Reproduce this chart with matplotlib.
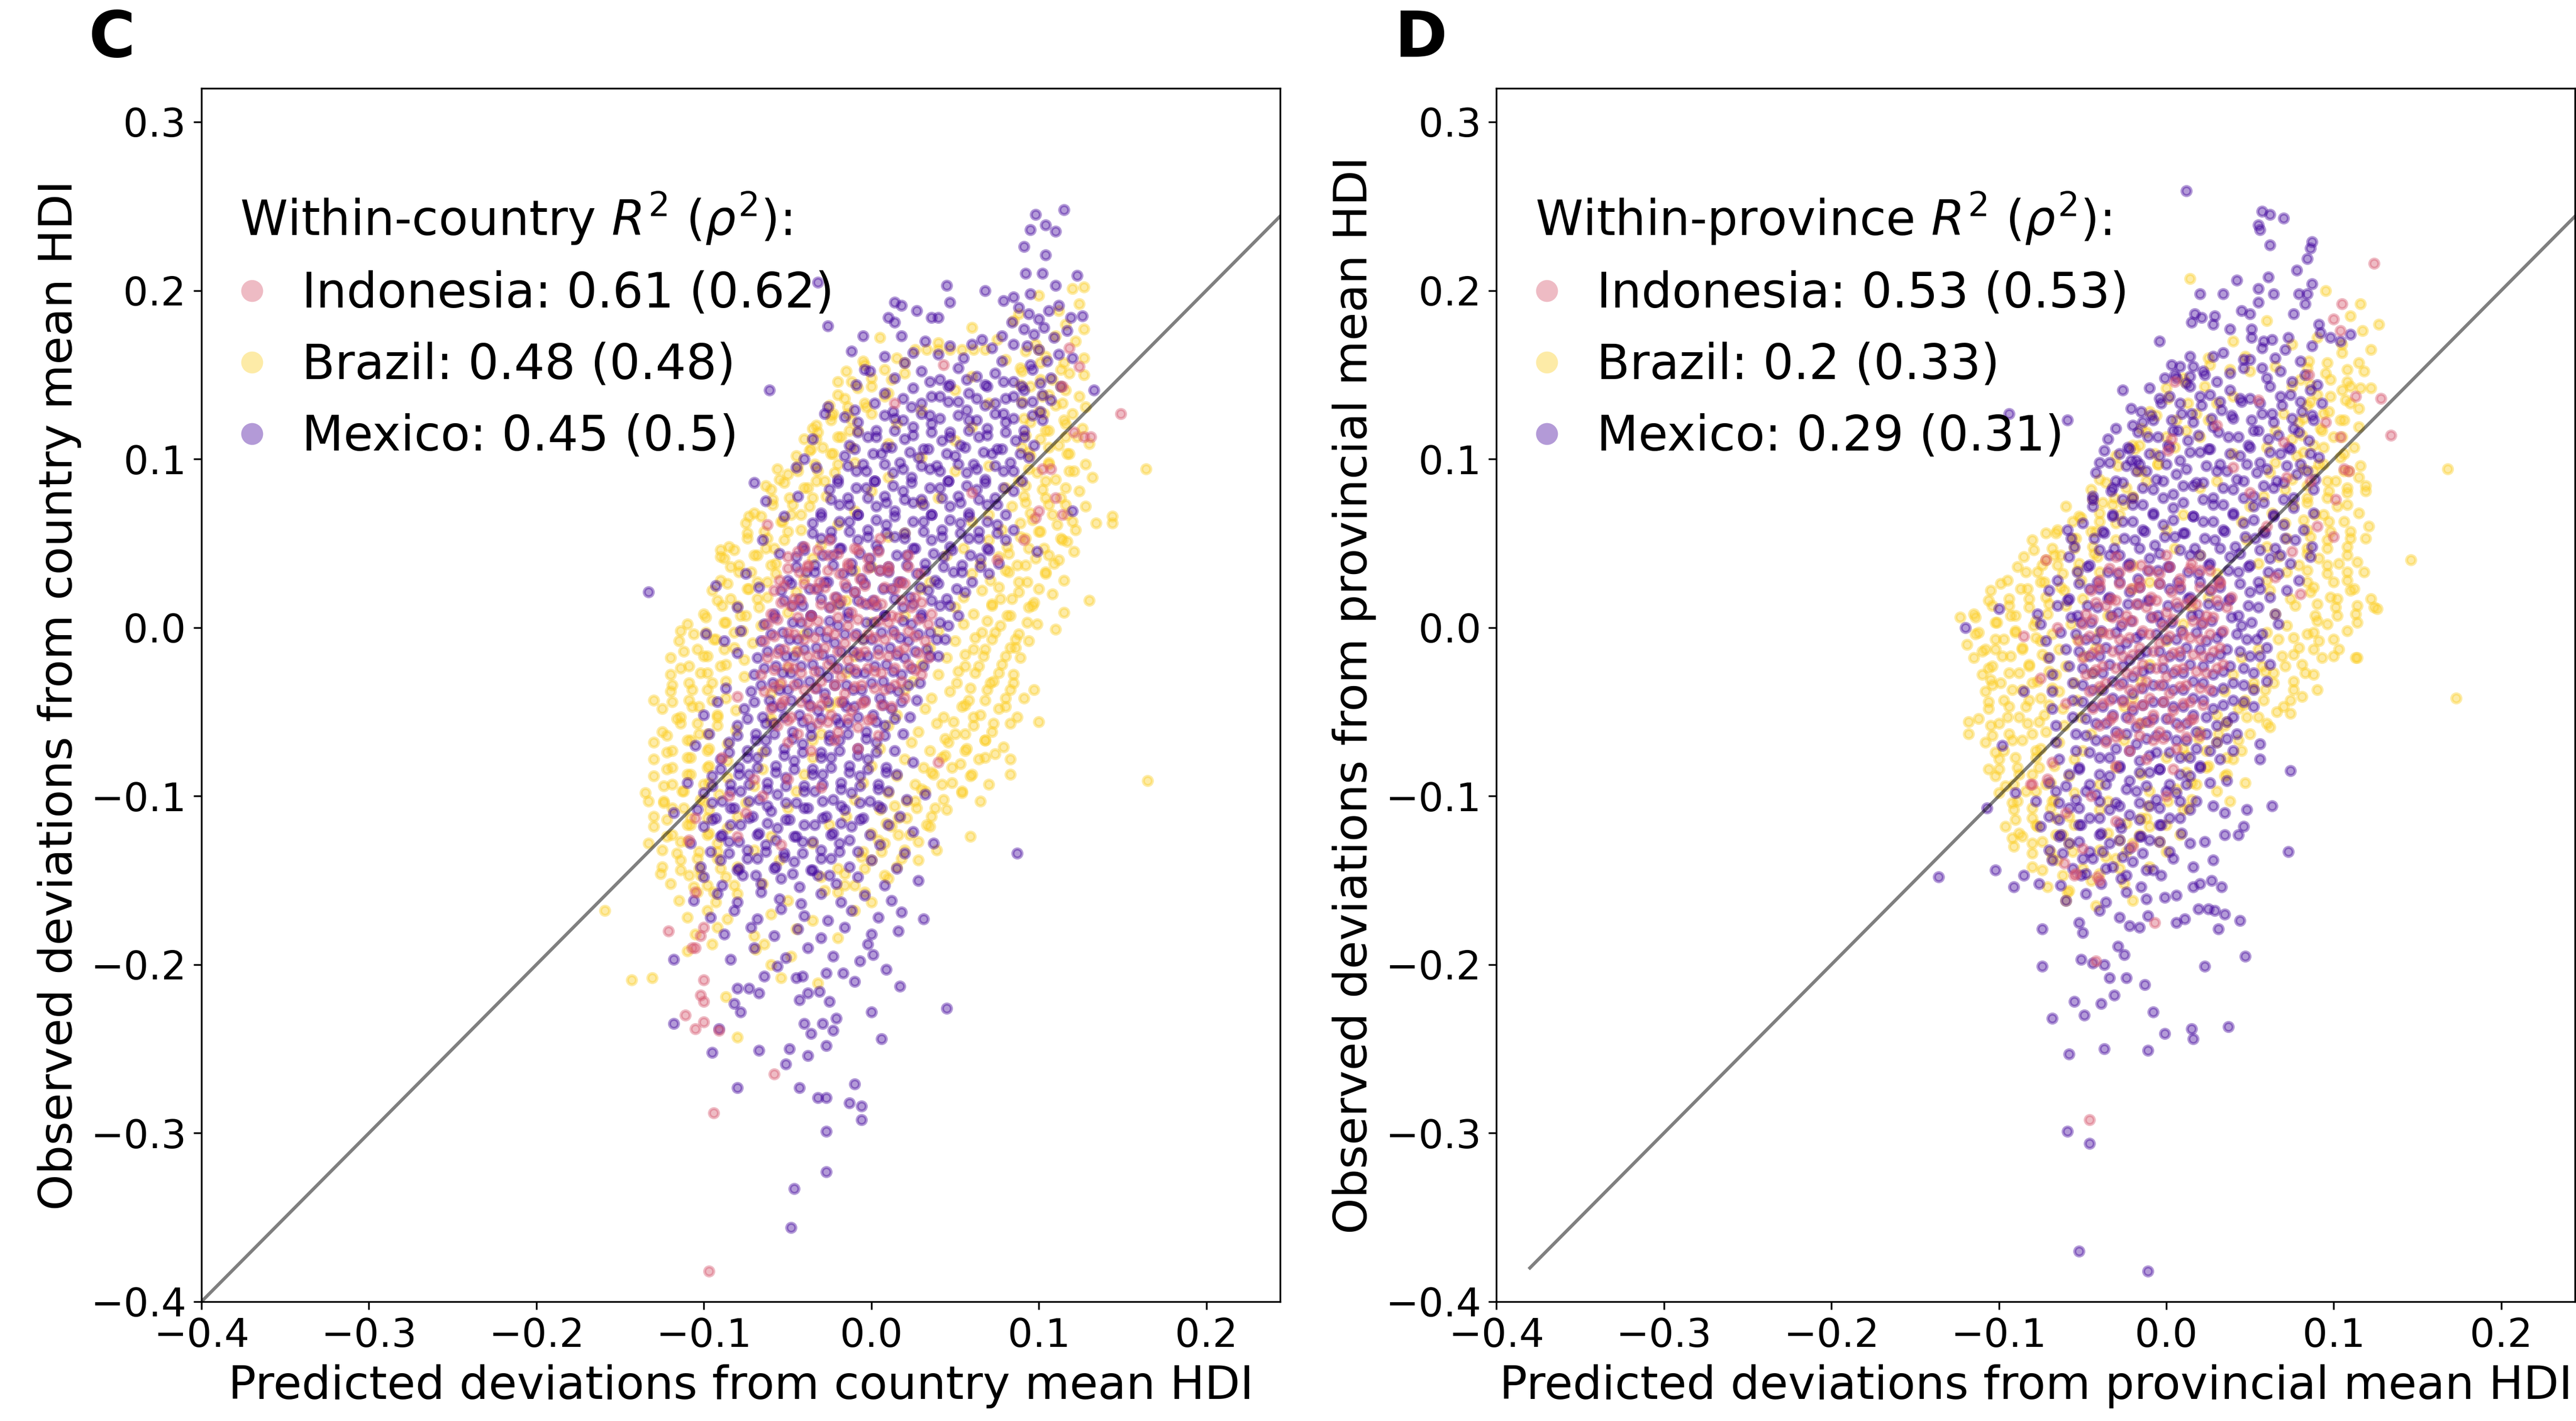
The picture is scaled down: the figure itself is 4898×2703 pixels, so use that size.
import numpy as np
import matplotlib.pyplot as plt
from matplotlib.lines import Line2D

# (predicted, observed) deviations, in thousandths of HDI

# panel C, country level
MEX_C = [
    (115,248),(98,245),(104,239),(95,236),(110,235),(91,226),(104,221),(92,210),(102,210),(123,209),(110,203),(45,203),(68,200),(-32,205),
    (14,193),(18,191),(27,188),(36,184),(40,184),(47,193),(79,194),(85,196),(95,198),(112,191),(126,185),(119,184),(10,184),(14,181),(-26,179),
    (-5,173),(18,173),(-12,164),(-1,152),(-61,141),(133,141),(-26,131),(-28,127),(-16,125),(-45,95),(-70,86),(-63,75),(-133,21),(-93,25),(-99,-4),(120,69),(99,45),(87,-134),
    (88,190),(94,186),(100,183),(106,188),(84,181),(91,177),(97,174),(103,178),(109,172),(78,173),(85,168),(93,167),(100,165),(112,162),
    (72,166),(66,171),(60,168),(55,160),(47,167),(40,162),(32,170),(25,163),(20,157),(8,161),(117,176),(120,160),(105,158),(95,156),(78,158),
    (-4,153),(14,148),(30,152),(41,147),(52,154),(63,149),(74,151),(85,146),(96,153),(107,148),
    (-9,144),(8,139),(25,142),(36,137),(47,144),(58,139),(69,143),(80,136),(91,141),(102,138),(113,143),
    (2,133),(13,128),(24,131),(35,126),(46,134),(57,129),(68,132),(79,127),(90,133),(101,128),(-10,129),
    (-8,122),(3,117),(14,124),(25,119),(36,121),(47,116),(58,123),(69,118),(80,122),(91,117),(102,123),
    (-13,108),(-2,113),(9,107),(20,112),(31,106),(42,111),(53,108),(64,113),(75,106),(86,111),(97,108),(-35,112),
    (-16,102),(-5,97),(6,103),(17,98),(28,101),(39,96),(50,102),(61,97),(72,103),(83,98),(94,101),(-40,100),
    (-20,88),(-9,93),(2,87),(13,92),(24,89),(35,94),(46,87),(57,92),(68,88),(79,93),(90,87),(-33,95),
    (-25,82),(-14,77),(-3,83),(8,78),(19,81),(30,76),(41,83),(52,78),(63,82),(74,77),(85,81),(-44,78),
    (-30,68),(-19,73),(-8,67),(3,72),(14,69),(25,74),(36,67),(47,72),(58,68),(69,73),(80,67),(-52,66),
    (-35,62),(-24,57),(-13,63),(-2,58),(9,61),(20,56),(31,63),(42,58),(53,62),(64,57),(75,61),(85,58),
    (-41,48),(-30,53),(-19,47),(-8,52),(3,49),(14,54),(25,47),(36,52),(47,48),(58,53),(69,47),(80,52),(-65,52),(-55,44),
    (-45,42),(-34,37),(-23,43),(-12,38),(-1,41),(10,36),(21,43),(32,38),(43,42),(54,37),(65,41),(76,38),
    (-50,28),(-39,33),(-28,27),(-17,32),(-6,29),(5,34),(16,27),(27,32),(38,28),(49,33),(60,27),(70,32),(-75,32),
    (-54,22),(-43,17),(-32,23),(-21,18),(-10,21),(1,16),(12,23),(23,18),(34,22),(45,17),(56,21),(-67,24),
    (-58,8),(-47,13),(-36,7),(-25,12),(-14,9),(-3,14),(8,7),(19,12),(30,8),(41,13),(52,7),(-80,12),
    (-64,2),(-53,-3),(-42,3),(-31,-2),(-20,1),(-9,-4),(2,3),(13,-2),(24,2),(35,-3),(46,1),(-78,-2),
    (-66,-8),(-55,-13),(-44,-7),(-33,-12),(-22,-9),(-11,-14),(0,-7),(11,-12),(22,-8),(33,-13),(44,-7),(-88,-8),
    (-68,-18),(-57,-23),(-46,-17),(-35,-22),(-24,-19),(-13,-24),(-2,-17),(9,-22),(20,-18),(31,-23),(40,-17),(-80,-15),
    (-70,-28),(-59,-33),(-48,-27),(-37,-32),(-26,-29),(-15,-34),(-4,-27),(7,-32),(18,-28),(29,-33),(-87,-36),
    (-72,-38),(-61,-43),(-50,-37),(-39,-42),(-28,-39),(-17,-44),(-6,-37),(5,-42),(16,-38),(27,-43),(-92,-44),
    (-76,-48),(-65,-53),(-54,-47),(-43,-52),(-32,-49),(-21,-54),(-10,-47),(1,-52),(12,-48),(23,-53),(-100,-52),
    (-80,-58),(-69,-63),(-58,-57),(-47,-62),(-36,-59),(-25,-64),(-14,-57),(-3,-62),(8,-58),(19,-63),(-97,-63),
    (-85,-68),(-74,-73),(-63,-67),(-52,-72),(-41,-69),(-30,-74),(-19,-67),(-8,-72),(3,-68),(14,-73),(-105,-70),
    (-90,-78),(-79,-83),(-68,-77),(-57,-82),(-46,-79),(-35,-84),(-24,-77),(-13,-82),(-2,-78),(9,-83),(25,-80),
    (-95,-88),(-84,-93),(-73,-87),(-62,-92),(-51,-89),(-40,-94),(-29,-87),(-18,-92),(-7,-88),(4,-93),(15,-87),(-110,-92),
    (-100,-98),(-89,-103),(-78,-97),(-67,-102),(-56,-99),(-45,-104),(-34,-97),(-23,-102),(-12,-98),(-1,-103),(10,-97),(21,-102),(32,-99),
    (-104,-108),(-93,-113),(-82,-107),(-71,-112),(-60,-109),(-49,-114),(-38,-107),(-27,-112),(-16,-108),(-5,-113),(6,-107),(17,-112),(-118,-110),
    (-100,-118),(-89,-123),(-78,-117),(-67,-122),(-56,-119),(-45,-124),(-34,-117),(-23,-122),(-12,-118),(-1,-123),(10,-117),(25,-121),
    (-108,-128),(-96,-133),(-85,-127),(-74,-132),(-63,-129),(-52,-134),(-41,-127),(-30,-132),(-19,-128),(-8,-133),(5,-129),(20,-134),(37,-128),
    (-102,-142),(-90,-138),(-79,-143),(-68,-137),(-57,-142),(-46,-139),(-35,-144),(-24,-137),(-13,-142),(0,-138),(15,-143),
    (-100,-148),(-89,-153),(-77,-147),(-66,-152),(-54,-149),(-43,-154),(-32,-147),(-21,-152),(-8,-148),(8,-153),(28,-150),
    (-106,-162),(-92,-158),(-80,-163),(-66,-157),(-55,-161),(-42,-164),(-30,-158),(-18,-163),(-4,-159),(12,-162),
    (-96,-172),(-82,-168),(-68,-173),(-54,-167),(-40,-171),(-26,-174),(-12,-168),(4,-172),(18,-169),(31,-173),
    (-88,-182),(-72,-178),(-58,-183),(-44,-179),(-30,-184),(-16,-178),(0,-182),(16,-180),
    (-84,-197),(-118,-197),(-64,-207),(-56,-201),(-51,-196),(-45,-208),(-41,-207),(-31,-216),(-27,-205),(-23,-195),(-17,-205),(-10,-210),
    (-7,-198),(1,-194),(9,-203),(17,-213),(-70,-190),(-38,-190),(-2,-188),
    (-48,-356),(-46,-333),(-27,-323),(-27,-299),(-6,-292),(-6,-284),(-10,-271),(-13,-282),(-27,-279),(-32,-279),(-43,-273),(-80,-273),
    (-95,-252),(-67,-251),(-49,-250),(-38,-254),(-51,-259),(-27,-248),(6,-244),(-36,-241),(-23,-239),(-29,-235),(-40,-235),(-21,-232),
    (0,-228),(45,-226),(-25,-222),(-43,-221),(-38,-217),(-67,-217),(-80,-214),(-73,-214),(-82,-223),(-78,-228),(-118,-235),(-91,-238),
]

# the dark central band of the Mexico cloud in panel C
MEX_C_CORE = [
    (35,146),(46,143),(57,147),(68,144),(79,146),(90,143),(101,145),
    (19,136),(30,133),(41,137),(52,134),(63,136),(74,133),(85,137),(96,134),(107,135),
    (8,126),(19,123),(30,127),(41,124),(52,126),(63,123),(74,127),(85,124),(96,126),
    (-8,116),(3,113),(14,117),(25,114),(36,116),(47,113),(58,117),(69,114),(80,116),(91,113),
    (-10,106),(1,103),(12,107),(23,104),(34,106),(45,103),(56,107),(67,104),(78,106),(89,103),
    (-14,96),(-3,93),(8,97),(19,94),(30,96),(41,93),(52,97),(63,94),(74,96),(85,93),
    (-20,86),(-9,83),(2,87),(13,84),(24,86),(35,83),(46,87),(57,84),(68,86),(79,83),
    (-24,76),(-13,73),(-2,77),(9,74),(20,76),(31,73),(42,77),(53,74),(64,76),(75,73),
    (-30,66),(-19,63),(-8,67),(3,64),(14,66),(25,63),(36,67),(47,64),(58,66),(69,63),
    (-35,56),(-24,53),(-13,57),(-2,54),(9,56),(20,53),(31,57),(42,54),(53,56),(64,53),(75,56),
    (-40,46),(-29,43),(-18,47),(-7,44),(4,46),(15,43),(26,47),(37,44),(48,46),(59,43),(70,46),
    (-45,36),(-34,33),(-23,37),(-12,34),(-1,36),(10,33),(21,37),(32,34),(43,36),(54,33),(65,36),
    (-48,26),(-37,23),(-26,27),(-15,24),(-4,26),(7,23),(18,27),(29,24),(40,26),(51,23),
    (-52,16),(-41,13),(-30,17),(-19,14),(-8,16),(3,13),(14,17),(25,14),(36,16),(47,13),
    (-58,6),(-47,3),(-36,7),(-25,4),(-14,6),(-3,3),(8,7),(19,4),(30,6),(41,3),
    (-60,-4),(-49,-7),(-38,-3),(-27,-6),(-16,-4),(-5,-7),(6,-3),(17,-6),(28,-4),(39,-7),
    (-62,-14),(-51,-17),(-40,-13),(-29,-16),(-18,-14),(-7,-17),(4,-13),(15,-16),(26,-14),(35,-17),
    (-64,-24),(-53,-27),(-42,-23),(-31,-26),(-20,-24),(-9,-27),(2,-23),(13,-26),(24,-24),
    (-66,-34),(-55,-37),(-44,-33),(-33,-36),(-22,-34),(-11,-37),(0,-33),(11,-36),(22,-34),
    (-70,-44),(-59,-47),(-48,-43),(-37,-46),(-26,-44),(-15,-47),(-4,-43),(7,-46),(18,-44),
    (-74,-54),(-63,-57),(-52,-53),(-41,-56),(-30,-54),(-19,-57),(-8,-53),(3,-56),(14,-54),
    (-80,-64),(-69,-67),(-58,-63),(-47,-66),(-36,-64),(-25,-67),(-14,-63),(-3,-66),(8,-64),
    (-85,-74),(-74,-77),(-63,-73),(-52,-76),(-41,-74),(-30,-77),(-19,-73),(-8,-76),(3,-74),
    (-90,-84),(-79,-87),(-68,-83),(-57,-86),(-46,-84),(-35,-87),(-24,-83),(-13,-86),(-2,-84),(9,-86),
    (-95,-94),(-84,-97),(-73,-93),(-62,-96),(-51,-94),(-40,-97),(-29,-93),(-18,-96),(-7,-94),(4,-96),
    (-95,-104),(-84,-107),(-73,-103),(-62,-106),(-51,-104),(-40,-107),(-29,-103),(-18,-106),(-7,-104),(4,-106),
    (-95,-114),(-84,-117),(-73,-113),(-62,-116),(-51,-114),(-40,-117),(-29,-113),(-18,-116),(-7,-114),
    (-90,-124),(-79,-127),(-68,-123),(-57,-126),(-46,-124),(-35,-127),(-24,-123),(-13,-126),
    (-85,-134),(-74,-137),(-63,-133),(-52,-136),(-41,-134),(-30,-137),(-19,-133),
    (-80,-144),(-69,-147),(-58,-143),(-47,-146),(-36,-144),(-25,-147),
]

BRA_C = [
    (120,201),(127,202),(100,197),(112,188),(124,192),(88,186),(127,177),(85,182),(116,180),(60,178),
    (5,172),(40,169),(75,171),(98,168),(110,173),(122,170),
    (26,165),(33,165),(40,165),(47,165),(54,165),(61,165),(68,165),(92,164),(100,165),
    (-5,158),(15,160),(80,159),(104,161),(115,157),(127,160),
    (-15,152),(0,148),(20,151),(60,149),(90,152),(108,147),(118,151),(127,150),(-20,146),
    (-20,138),(-8,142),(10,139),(50,141),(95,143),(106,138),(116,141),(124,137),
    (-25,132),(-14,127),(-3,131),(30,129),(70,133),(100,128),(110,132),(120,127),(128,131),(-23,127),(-14,131),
    (-35,118),(-24,123),(-13,117),(15,121),(60,119),(95,122),(106,117),(116,121),(126,118),(-33,120),(-33,112),
    (-40,112),(-29,107),(-18,113),(10,109),(50,111),(90,107),(101,112),(112,108),(123,113),(130,109),(-37,105),
    (-45,102),(-34,97),(-23,103),(-10,98),(30,101),(70,96),(95,102),(106,98),(117,103),(128,97),
    (-55,88),(-44,93),(-33,87),(-22,92),(10,89),(50,93),(88,87),(99,92),(110,88),(121,93),(132,89),(164,94),(-56,94),(-50,91),
    (-60,82),(-49,77),(-38,83),(-27,78),(0,81),(40,77),(80,83),(91,78),(102,82),(113,77),(124,81),(-63,84),
    (-70,68),(-59,73),(-48,67),(-37,72),(-10,69),(30,74),(70,67),(84,72),(95,68),(106,73),(117,67),(128,72),(-73,66),
    (-75,62),(-64,57),(-53,63),(-42,58),(-20,61),(20,56),(60,63),(78,58),(89,62),(100,57),(111,61),(122,58),(134,62),(144,66),(144,62),
    (-85,48),(-74,53),(-63,47),(-52,52),(-30,49),(10,54),(55,47),(70,52),(81,48),(92,53),(103,47),(114,52),(121,45),(117,51),(-90,46),
    (-90,42),(-79,37),(-68,43),(-57,38),(-35,41),(0,36),(45,43),(65,38),(76,42),(87,37),(98,41),(109,38),(112,40),(-88,41),
    (-90,28),(-79,33),(-68,27),(-57,32),(-40,29),(-10,34),(35,27),(60,32),(71,28),(82,33),(93,27),(104,32),(115,28),
    (-95,22),(-84,17),(-73,23),(-62,18),(-45,21),(-15,16),(30,23),(55,18),(66,22),(77,17),(88,21),(97,15),(108,20),
    (-100,8),(-89,13),(-78,7),(-67,12),(-50,9),(-20,14),(20,7),(50,12),(61,8),(72,13),(83,7),(94,12),(130,16),(115,9),
    (-110,2),(-99,-3),(-88,3),(-77,-2),(-66,1),(-40,-4),(0,3),(40,-2),(55,2),(66,-3),(77,1),(88,-4),(99,2),(110,-1),(-114,-2),
    (-115,-8),(-104,-13),(-93,-7),(-82,-12),(-71,-9),(-45,-14),(-5,-7),(35,-12),(50,-8),(61,-13),(72,-7),(83,-12),(86,-12),(94,-8),
    (-120,-18),(-109,-23),(-98,-17),(-87,-22),(-76,-19),(-50,-24),(-10,-17),(30,-22),(45,-18),(56,-23),(67,-17),(78,-22),(89,-18),
    (-120,-28),(-109,-33),(-98,-27),(-87,-32),(-76,-29),(-55,-34),(-15,-27),(25,-32),(40,-28),(51,-33),(62,-27),(73,-32),(85,-33),(85,-28),
    (-130,-43),(-120,-38),(-109,-43),(-98,-37),(-87,-42),(-60,-39),(-20,-44),(20,-37),(36,-42),(47,-38),(58,-43),(69,-37),(80,-42),(91,-42),(97,-37),
    (-125,-48),(-114,-53),(-103,-47),(-92,-52),(-81,-49),(-60,-54),(-25,-47),(15,-52),(32,-48),(43,-53),(54,-47),(65,-52),(76,-48),(87,-53),(100,-56),
    (-125,-62),(-114,-57),(-103,-63),(-92,-58),(-81,-61),(-60,-56),(-30,-63),(10,-58),(28,-62),(39,-57),(50,-63),(61,-58),(72,-62),(83,-57),
    (-130,-68),(-119,-73),(-108,-67),(-97,-72),(-86,-69),(-65,-74),(-35,-67),(5,-72),(24,-68),(35,-73),(46,-68),(57,-72),(68,-67),(74,-75),(79,-71),
    (-130,-78),(-119,-83),(-108,-77),(-97,-82),(-86,-79),(-65,-84),(-35,-77),(0,-82),(20,-78),(31,-83),(42,-77),(53,-81),(64,-78),(83,-78),(83,-87),
    (-130,-88),(-119,-93),(-108,-87),(-97,-92),(-86,-89),(-70,-94),(-40,-87),(-5,-92),(15,-88),(26,-93),(37,-87),(48,-92),(59,-88),(70,-93),(165,-91),
    (-135,-98),(-124,-103),(-113,-97),(-102,-102),(-91,-99),(-75,-104),(-45,-97),(-10,-102),(10,-98),(21,-103),(32,-97),(43,-102),(54,-98),(65,-103),
    (-133,-103),(-130,-112),(-119,-107),(-108,-113),(-97,-108),(-80,-112),(-50,-107),(-15,-112),(5,-108),(16,-113),(27,-107),(36,-112),(45,-108),
    (-130,-118),(-119,-123),(-108,-117),(-97,-122),(-86,-119),(-60,-124),(-25,-117),(0,-122),(12,-118),(23,-123),(35,-118),(59,-124),
    (-133,-128),(-125,-132),(-114,-127),(-103,-133),(-92,-128),(-70,-132),(-35,-128),(-5,-133),(8,-128),(20,-132),(39,-132),
    (-125,-142),(-114,-138),(-103,-143),(-92,-137),(-80,-142),(-55,-138),(-20,-143),(0,-138),(15,-142),(28,-138),
    (-126,-146),(-120,-152),(-109,-147),(-98,-153),(-87,-148),(-65,-152),(-30,-148),(-10,-153),(10,-149),
    (-115,-162),(-104,-157),(-93,-163),(-80,-158),(-50,-162),(-20,-157),(0,-163),
    (-159,-168),(-110,-172),(-98,-168),(-86,-173),(-60,-170),(-35,-174),(-10,-168),
    (-105,-182),(-92,-178),(-70,-183),(-45,-179),(-20,-184),
    (-110,-192),(-95,-188),(-69,-191),(-64,-188),(-48,-195),
    (-143,-209),(-131,-208),(-87,-219),(-80,-243),(-54,-208),(-32,-211),(-60,-200),
]

# the yellow rims left and right of the Mexico band in panel C
BRA_C_EDGE = [
    (-4,156),(8,153),(20,157),(89,154),(101,157),(113,153),
    (-12,146),(0,143),(12,147),(89,144),(101,147),(113,143),
    (-16,136),(-4,133),(8,137),(90,134),(102,137),(114,133),
    (-24,126),(-12,123),(0,127),(91,124),(103,127),(115,123),
    (-32,116),(-20,113),(-8,117),(92,114),(104,117),(116,113),
    (-36,106),(-24,103),(-12,107),(94,104),(106,107),(118,103),
    (-44,96),(-32,93),(-20,97),(94,94),(106,97),(118,93),
    (-52,86),(-40,83),(-28,87),(92,84),(104,87),(116,83),
    (-59,76),(-47,73),(-35,77),(92,74),(104,77),(116,73),
    (-66,66),(-54,63),(-42,67),(96,64),(108,67),(120,63),
    (-74,56),(-62,53),(-50,57),(89,54),(101,57),(113,53),
    (-82,46),(-70,43),(-58,47),(82,44),(94,47),(106,43),
    (-84,36),(-72,33),(-60,37),(80,34),(92,37),(104,33),
    (-86,26),(-74,23),(-62,27),(76,24),(88,27),(100,23),
    (-92,16),(-80,13),(-68,17),(72,14),(84,17),(96,13),
    (-99,6),(-87,3),(-75,7),(69,4),(81,7),(93,3),
    (-106,-4),(-94,-7),(-82,-3),(62,-6),(74,-3),(86,-7),
    (-112,-14),(-100,-17),(-88,-13),(56,-16),(68,-13),(80,-17),
    (-114,-24),(-102,-27),(-90,-23),(52,-26),(64,-23),(76,-27),
    (-119,-34),(-107,-37),(-95,-33),(59,-36),(71,-33),(83,-37),
    (-119,-44),(-107,-47),(-95,-43),(56,-46),(68,-43),(80,-47),
    (-116,-54),(-104,-57),(-92,-53),(49,-56),(61,-53),(73,-57),
    (-122,-64),(-110,-67),(-98,-63),(44,-66),(56,-63),(68,-67),
    (-122,-74),(-110,-77),(-98,-73),(44,-76),(56,-73),(68,-77),
    (-122,-84),(-110,-87),(-98,-83),(36,-86),(48,-83),(60,-87),
    (-124,-94),(-112,-97),(-100,-93),(30,-96),(42,-93),(54,-97),
    (-124,-104),(-112,-107),(-100,-103),(14,-106),(26,-103),(38,-107),
    (-122,-114),(-110,-117),(-98,-113),(9,-116),(21,-113),(33,-117),
    (-122,-124),(-110,-127),(-98,-123),(4,-126),(16,-123),(28,-127),
    (-116,-134),(-104,-137),(-92,-133),(-6,-136),(6,-133),(18,-137),
    (-114,-144),(-102,-147),(-90,-143),(-16,-146),(-4,-143),(8,-147),
    (-106,-154),(-94,-157),(-82,-153),(-28,-156),(-16,-153),(-4,-157),
]

IDN_C = [
    (-40,48),(-25,52),(-10,47),(5,53),
    (-50,42),(-38,37),(-26,43),(-14,38),(-2,41),(10,36),(22,43),
    (-55,28),(-43,33),(-31,27),(-19,32),(-7,29),(5,34),(17,27),(29,32),
    (-58,22),(-46,17),(-34,23),(-22,18),(-10,21),(2,16),(14,23),(26,18),
    (-60,8),(-48,13),(-36,7),(-24,12),(-12,9),(0,14),(12,7),(24,12),(36,8),
    (-62,2),(-50,-3),(-38,3),(-26,-2),(-14,1),(-2,-4),(10,3),(22,-2),(34,2),
    (-64,-8),(-52,-13),(-40,-7),(-28,-12),(-16,-9),(-4,-14),(8,-7),(20,-12),(32,-8),
    (-62,-18),(-50,-23),(-38,-17),(-26,-22),(-14,-19),(-2,-24),(10,-17),(22,-22),(34,-18),
    (-66,-28),(-54,-33),(-42,-27),(-30,-32),(-18,-29),(-6,-34),(6,-27),(18,-32),(30,-28),
    (-64,-38),(-52,-43),(-40,-37),(-28,-42),(-16,-39),(-4,-44),(8,-37),(20,-42),
    (-60,-48),(-48,-53),(-36,-47),(-24,-52),(-12,-49),(0,-54),(12,-47),
    (-56,-58),(-44,-63),(-32,-57),(-20,-62),(-8,-59),(4,-64),
    (-50,-68),(-36,-73),(-22,-67),(-8,-72),
    (-44,45),(-32,46),(-20,44),(-8,46),(4,45),
    (-50,35),(-38,36),(-26,34),(-14,36),(-2,35),(10,34),(22,36),
    (-52,25),(-40,26),(-28,24),(-16,26),(-4,25),(8,24),(20,26),
    (-54,15),(-42,16),(-30,14),(-18,16),(-6,15),(6,14),(18,16),(30,15),
    (-56,5),(-44,6),(-32,4),(-20,6),(-8,5),(4,4),(16,6),(28,5),
    (-58,-5),(-46,-4),(-34,-6),(-22,-4),(-10,-5),(2,-6),(14,-4),(26,-5),
    (-56,-15),(-44,-14),(-32,-16),(-20,-14),(-8,-15),(4,-16),(16,-14),(28,-15),
    (-58,-25),(-46,-24),(-34,-26),(-22,-24),(-10,-25),(2,-26),(14,-24),(26,-25),
    (-58,-35),(-46,-34),(-34,-36),(-22,-34),(-10,-35),(2,-36),(14,-34),
    (-54,-45),(-42,-44),(-30,-46),(-18,-44),(-6,-45),(6,-46),
    (-50,-55),(-38,-54),(-26,-56),(-14,-54),(-2,-55),
    (149,127),(131,113),(127,113),(121,116),(118,166),(124,155),(114,143),(43,156),(14,133),(107,94),(102,94),(110,77),(114,67),
    (98,65),(100,69),(-62,61),(91,52),(60,80),(75,40),(-70,-90),(-85,-100),(40,-80),(-75,-110),
    (-121,-180),(-105,-157),(-105,-113),(-109,-126),(-100,-178),(-102,-183),(-107,-190),(-105,-190),(-100,-209),(-102,-218),
    (-100,-222),(-111,-230),(-105,-238),(-100,-234),(-91,-239),(-58,-265),(-94,-288),(-97,-382),(-80,-41),(-89,-77),
    (-54,-129),(-80,-124),(-65,-100),(-50,-90),(-30,-95),
]

# panel D, province level
MEX_D = [
    (12,259),(57,247),(62,245),(70,243),(55,239),(56,236),(62,227),(87,229),(86,225),(84,219),(78,212),(61,208),(42,206),(87,204),
    (55,201),(64,198),(20,198),(34,198),(55,193),(79,198),(84,198),(83,192),(45,188),(50,186),(76,186),(17,186),(21,184),(29,185),
    (15,181),(28,180),(38,177),(-4,170),(51,177),(51,172),(58,170),(63,171),(57,166),(73,172),(71,165),(87,167),(92,175),(98,172),
    (104,170),(110,174),(91,180),(14,161),(28,161),(34,163),(46,159),(50,159),(46,154),(57,154),(-26,141),(-21,130),(-20,120),
    (-14,122),(-37,105),(-34,98),(-21,99),(-18,99),(-59,58),(-57,53),(-44,76),(-33,81),(-94,127),(-59,123),(-120,0),(-100,11),
    (5,150),(12,145),(22,152),(30,146),(38,151),(60,148),(68,152),(75,146),(83,150),(90,144),(3,156),(65,160),(80,158),
    (8,155),(16,155),(23,150),(-1,148),(6,148),(14,149),
    (-10,142),(2,137),(14,143),(26,138),(38,141),(50,136),(62,143),(74,138),(86,141),
    (-15,128),(-3,133),(9,127),(21,132),(33,129),(45,134),(57,127),(69,132),(81,128),(93,133),
    (-30,118),(-8,123),(4,117),(16,122),(28,119),(40,124),(52,117),(64,122),(76,118),(88,123),
    (-35,112),(-23,107),(-11,113),(1,108),(13,111),(25,106),(37,113),(49,108),(61,112),(73,107),(85,111),
    (-40,98),(-28,103),(-16,97),(-4,102),(8,99),(20,104),(32,97),(44,102),(56,98),(68,103),(80,97),(91,101),
    (-42,92),(-30,87),(-18,93),(-6,88),(6,91),(18,86),(30,93),(42,88),(54,92),(66,87),(78,91),(89,88),
    (-44,78),(-32,83),(-20,77),(-8,82),(4,79),(16,84),(28,77),(40,82),(52,78),(64,83),(76,77),(88,82),
    (-44,72),(-32,67),(-20,73),(-8,68),(4,71),(16,66),(28,73),(40,68),(52,72),(64,67),(76,71),(88,68),
    (-50,62),(-38,57),(-26,63),(-14,58),(-2,61),(10,56),(22,63),(34,58),(46,62),(58,57),(70,61),(82,58),
    (-55,48),(-43,53),(-31,47),(-19,52),(-7,49),(5,54),(17,47),(29,52),(41,48),(53,53),(65,47),(77,52),(87,48),
    (-58,42),(-46,37),(-34,43),(-22,38),(-10,41),(2,36),(14,43),(26,38),(38,42),(50,37),(62,41),(74,38),(86,42),
    (-65,28),(-53,33),(-41,27),(-29,32),(-17,29),(-5,34),(7,27),(19,32),(31,28),(43,33),(55,27),(67,32),(79,28),
    (-70,22),(-58,17),(-46,23),(-34,18),(-22,21),(-10,16),(2,23),(14,18),(26,22),(38,17),(50,21),(62,18),(72,22),
    (-77,8),(-65,13),(-53,7),(-41,12),(-29,9),(-17,14),(-5,7),(7,12),(19,8),(31,13),(43,7),(55,12),(65,8),
    (-75,2),(-63,-3),(-51,3),(-39,-2),(-27,1),(-15,-4),(-3,3),(9,-2),(21,2),(33,-3),(45,1),(57,-4),(67,2),
    (-72,-8),(-60,-13),(-48,-7),(-36,-12),(-24,-9),(-12,-14),(0,-7),(12,-12),(24,-8),(36,-13),(48,-7),(60,-12),
    (-70,-18),(-58,-23),(-46,-17),(-34,-22),(-22,-19),(-10,-24),(2,-17),(14,-22),(26,-18),(38,-23),(50,-17),(62,-22),
    (-68,-28),(-56,-33),(-44,-27),(-32,-32),(-20,-29),(-8,-34),(4,-27),(16,-32),(28,-28),(40,-33),(52,-27),(60,-32),
    (-68,-38),(-56,-43),(-44,-37),(-32,-42),(-20,-39),(-8,-44),(4,-37),(16,-42),(28,-38),(40,-43),(52,-37),
    (-68,-48),(-56,-53),(-44,-47),(-32,-52),(-20,-49),(-8,-54),(4,-47),(16,-52),(28,-48),(40,-53),(52,-47),
    (-66,-58),(-54,-63),(-42,-57),(-30,-62),(-18,-59),(-6,-64),(6,-57),(18,-62),(30,-58),(42,-63),(56,-69),
    (-66,-68),(-54,-73),(-42,-67),(-30,-72),(-18,-69),(-6,-74),(6,-67),(18,-72),(30,-68),(40,-73),(56,-78),
    (-64,-78),(-52,-83),(-40,-77),(-28,-82),(-16,-79),(-4,-84),(8,-77),(20,-82),(32,-78),(74,-85),
    (-70,-92),(-58,-87),(-46,-93),(-34,-88),(-22,-91),(-10,-86),(2,-93),(14,-88),(26,-92),(36,-91),
    (-90,-98),(-78,-103),(-66,-97),(-54,-102),(-42,-99),(-30,-104),(-18,-97),(-6,-102),(6,-98),(18,-103),(28,-106),(48,-108),(63,-106),
    (-107,-107),(-70,-112),(-58,-107),(-46,-113),(-34,-108),(-22,-111),(-10,-106),(2,-113),(14,-108),(35,-110),
    (-75,-118),(-63,-123),(-51,-117),(-39,-122),(-27,-119),(-15,-124),(-3,-117),(9,-122),(23,-127),(43,-123),(46,-118),(35,-123),
    (-70,-132),(-58,-128),(-46,-133),(-34,-128),(-22,-131),(-10,-126),(2,-133),(14,-128),(73,-133),
    (-76,-152),(-68,-138),(-56,-143),(-44,-137),(-32,-142),(-20,-139),(-8,-144),(4,-137),(16,-142),(28,-138),
    (-136,-148),(-102,-144),(-91,-154),(-85,-147),(-63,-153),(-51,-147),(-39,-152),(-27,-149),(-15,-154),(-3,-147),(16,-154),(20,-152),(27,-150),(33,-154),
    (-60,-162),(-48,-158),(-36,-163),(-24,-157),(-12,-161),(6,-159),(-1,-160),
    (-52,-175),(-50,-181),(-40,-168),(-28,-172),(-22,-177),(-16,-178),(-11,-171),(6,-175),(11,-173),(19,-167),(25,-167),(29,-168),
    (31,-179),(35,-170),(44,-174),(-74,-179),
    (-74,-201),(-51,-197),(-44,-199),(-37,-200),(-34,-208),(-24,-208),(-13,-212),(-29,-189),(-25,-194),(23,-201),(47,-195),
    (-68,-232),(-55,-222),(-49,-230),(-39,-223),(-31,-218),(-8,-228),(-58,-253),(-37,-250),(-11,-251),(-1,-241),(15,-238),(16,-244),(37,-237),
    (-59,-299),(-46,-306),(-52,-370),(-11,-382),(-98,-70),(-85,-38),
]

# the dark central column of the Mexico cloud in panel D
MEX_D_CORE = [
    (-4,136),(8,133),(20,137),(32,134),(44,136),(56,133),(68,137),(80,134),
    (-9,126),(3,123),(15,127),(27,124),(39,126),(51,123),(63,127),(75,124),(87,126),
    (-17,116),(-5,113),(7,117),(19,114),(31,116),(43,113),(55,117),(67,114),(79,116),
    (-22,106),(-10,103),(2,107),(14,104),(26,106),(38,103),(50,107),(62,104),(74,106),(86,103),
    (-24,96),(-12,93),(0,97),(12,94),(24,96),(36,93),(48,97),(60,94),(72,96),(84,93),
    (-26,86),(-14,83),(-2,87),(10,84),(22,86),(34,83),(46,87),(58,84),(70,86),
    (-26,76),(-14,73),(-2,77),(10,74),(22,76),(34,73),(46,77),(58,74),(70,76),
    (-32,66),(-20,63),(-8,67),(4,64),(16,66),(28,63),(40,67),(52,64),(64,66),
    (-37,56),(-25,53),(-13,57),(-1,54),(11,56),(23,53),(35,57),(47,54),(59,56),(71,53),
    (-40,46),(-28,43),(-16,47),(-4,44),(8,46),(20,43),(32,47),(44,44),(56,46),(68,43),
    (-47,36),(-35,33),(-23,37),(-11,34),(1,36),(13,33),(25,37),(37,34),(49,36),(61,33),
    (-52,26),(-40,23),(-28,27),(-16,24),(-4,26),(8,23),(20,27),(32,24),(44,26),(56,23),
    (-59,16),(-47,13),(-35,17),(-23,14),(-11,16),(1,13),(13,17),(25,14),(37,16),(49,13),
    (-57,6),(-45,3),(-33,7),(-21,4),(-9,6),(3,3),(15,7),(27,4),(39,6),(51,3),
    (-54,-4),(-42,-7),(-30,-3),(-18,-6),(-6,-4),(6,-7),(18,-3),(30,-6),(42,-4),(54,-7),
    (-52,-14),(-40,-17),(-28,-13),(-16,-16),(-4,-14),(8,-17),(20,-13),(32,-16),(44,-14),(56,-17),
    (-50,-24),(-38,-27),(-26,-23),(-14,-26),(-2,-24),(10,-27),(22,-23),(34,-26),(46,-24),
    (-50,-34),(-38,-37),(-26,-33),(-14,-36),(-2,-34),(10,-37),(22,-33),(34,-36),(46,-34),
    (-50,-44),(-38,-47),(-26,-43),(-14,-46),(-2,-44),(10,-47),(22,-43),(34,-46),(46,-44),
    (-48,-54),(-36,-57),(-24,-53),(-12,-56),(0,-54),(12,-57),(24,-53),(36,-56),
    (-48,-64),(-36,-67),(-24,-63),(-12,-66),(0,-64),(12,-67),(24,-63),(36,-66),
    (-46,-74),(-34,-77),(-22,-73),(-10,-76),(2,-74),(14,-77),(26,-73),
    (-52,-84),(-40,-87),(-28,-83),(-16,-86),(-4,-84),(8,-87),(20,-83),
    (-60,-94),(-48,-97),(-36,-93),(-24,-96),(-12,-94),(0,-97),(12,-93),
    (-64,-104),(-52,-107),(-40,-103),(-28,-106),(-16,-104),(-4,-107),(8,-103),
    (-64,-114),(-52,-117),(-40,-113),(-28,-116),(-16,-114),(-4,-117),(8,-113),
    (-64,-124),(-52,-127),(-40,-123),(-28,-126),(-16,-124),(-4,-127),
    (-62,-134),(-50,-137),(-38,-133),(-26,-136),(-14,-134),
    (-48,-146),(-36,-143),(-24,-147),(-12,-144),
]

BRA_D = [
    (14,207),(116,192),(95,200),(127,180),(117,176),(110,185),(60,182),
    (122,165),(105,168),(90,172),(75,168),(40,170),
    (47,161),(105,163),(115,157),(85,158),(65,155),(25,160),
    (10,148),(50,152),(80,147),(95,151),(108,146),(118,152),
    (0,142),(40,137),(75,143),(90,138),(105,141),(116,142),(122,142),
    (-10,128),(30,133),(70,127),(84,132),(97,128),(107,135),(115,130),
    (-15,118),(25,123),(65,117),(79,122),(92,118),(104,123),(115,119),
    (-20,108),(-16,108),(20,113),(60,107),(75,112),(88,108),(100,113),(112,107),
    (-30,102),(-5,97),(40,103),(65,98),(78,102),(91,97),(104,101),(116,96),
    (-40,88),(-15,93),(30,87),(62,92),(75,88),(88,93),(101,87),(115,89),(109,93),
    (-38,74),(-31,77),(-45,82),(-20,78),(20,83),(58,78),(71,82),(84,77),(97,81),(108,80),(119,81),(119,84),
    (-60,72),(-51,65),(-40,68),(-25,73),(10,67),(50,72),(63,68),(76,73),(89,67),(102,72),(115,68),
    (-65,58),(-56,63),(-45,57),(-30,62),(0,58),(45,63),(58,57),(71,62),(84,58),(97,63),(110,57),(121,60),
    (-72,56),(-80,52),(-68,47),(-56,53),(-44,48),(-30,52),(5,47),(48,52),(60,48),(72,53),(84,47),(96,52),(108,48),(119,53),
    (-72,40),(-85,42),(-74,37),(-63,43),(-52,38),(-41,42),(-20,37),(20,43),(55,38),(67,42),(79,37),(91,41),(103,38),(114,39),(146,40),
    (-95,28),(-84,33),(-73,27),(-62,32),(-51,28),(-40,33),(-10,27),(30,32),(60,28),(72,33),(84,27),(96,32),(108,28),(118,33),
    (-105,22),(-94,17),(-83,23),(-72,18),(-61,22),(-50,17),(-20,23),(25,18),(62,22),(74,17),(86,21),(98,18),(110,22),(122,17),
    (-115,8),(-104,13),(-93,7),(-82,12),(-71,8),(-60,13),(-35,7),(15,12),(65,8),(77,13),(89,7),(101,12),(113,8),(124,12),(126,11),
    (-123,6),(-112,-3),(-101,3),(-90,-2),(-79,1),(-68,-4),(-57,2),(-40,-3),(10,2),(60,-3),(72,1),(84,-4),(96,2),(108,-2),
    (-119,-10),(-108,-13),(-97,-7),(-86,-12),(-75,-8),(-64,-13),(-53,-7),(-42,-12),(0,-8),(55,-13),(67,-7),(79,-12),(91,-8),(103,-13),(114,-18),
    (-115,-18),(-104,-23),(-102,-13),(-93,-17),(-82,-22),(-71,-18),(-60,-23),(-49,-17),(-10,-22),(45,-18),(57,-23),(69,-17),(81,-22),(93,-18),(113,-18),
    (-110,-28),(-105,-31),(-99,-33),(-88,-27),(-77,-32),(-66,-28),(-55,-33),(-44,-27),(-15,-32),(40,-28),(52,-33),(64,-27),(76,-32),(88,-28),(90,-37),
    (-108,-38),(-97,-43),(-86,-37),(-75,-42),(-64,-38),(-53,-43),(-40,-37),(-20,-42),(35,-38),(47,-43),(59,-37),(74,-43),(81,-41),(173,-42),
    (-118,-56),(-106,-48),(-95,-53),(-84,-47),(-73,-52),(-62,-48),(-51,-53),(-25,-47),(30,-52),(43,-48),(55,-53),(66,-50),(74,-51),(62,-59),
    (-118,-63),(-105,-58),(-94,-63),(-83,-57),(-72,-62),(-61,-58),(-45,-63),(-15,-57),(20,-62),(35,-58),(50,-63),
    (-108,-68),(-97,-73),(-86,-67),(-75,-72),(-64,-68),(-50,-73),(-25,-67),(10,-72),(30,-68),(45,-73),
    (-106,-84),(-100,-78),(-89,-83),(-78,-77),(-67,-82),(-55,-78),(-30,-83),(0,-77),(25,-82),(40,-78),
    (-102,-88),(-91,-93),(-80,-87),(-69,-92),(-58,-88),(-40,-93),(-15,-87),(15,-92),(35,-88),(47,-92),
    (-100,-98),(-89,-103),(-78,-97),(-67,-102),(-55,-98),(-35,-103),(-10,-97),(15,-102),(38,-103),
    (-96,-118),(-91,-108),(-80,-113),(-69,-107),(-58,-112),(-40,-108),(-15,-113),(10,-108),
    (-92,-125),(-88,-122),(-77,-118),(-66,-123),(-55,-117),(-35,-122),(-10,-118),(8,-123),
    (-91,-130),(-80,-128),(-69,-133),(-58,-128),(-40,-132),(-20,-128),(0,-133),
    (-80,-142),(-65,-138),(-50,-143),(-30,-137),(-10,-142),
    (-71,-154),(-59,-157),(-58,-156),(-45,-150),(-25,-152),
    (-42,-165),(-60,-162),(-20,-162),(168,94),
]

# the yellow rims either side of the Mexico column in panel D
BRA_D_EDGE = [
    (26,156),(38,153),(84,154),(96,157),(108,153),
    (11,146),(23,143),(86,144),(98,147),(110,143),
    (1,136),(13,133),(86,134),(98,137),(110,133),
    (-6,126),(6,123),(18,127),(82,124),(94,127),(106,123),
    (-12,116),(0,113),(12,117),(81,114),(93,117),(105,113),
    (-19,106),(-7,103),(5,107),(82,104),(94,107),(106,103),
    (-29,96),(-17,93),(-5,97),(82,94),(94,97),(106,93),
    (-36,86),(-24,83),(-12,87),(84,84),(96,87),(108,83),
    (-44,76),(-32,73),(-20,77),(84,74),(96,77),(108,73),
    (-52,66),(-40,63),(-28,67),(82,64),(94,67),(106,63),
    (-66,56),(-54,53),(-42,57),(86,54),(98,57),(110,53),
    (-79,46),(-67,43),(-55,47),(-43,44),(84,44),(96,47),(108,43),
    (-89,36),(-77,33),(-65,37),(-53,34),(84,34),(96,37),(108,33),
    (-99,26),(-87,23),(-75,27),(-63,24),(88,24),(100,27),(112,23),
    (-106,16),(-94,13),(-82,17),(-70,14),(90,14),(102,17),(114,13),
    (-114,6),(-102,3),(-90,7),(-78,4),(90,4),(102,7),(114,3),
    (-114,-4),(-102,-7),(-90,-3),(-78,-6),(76,-6),(88,-3),(100,-7),
    (-110,-14),(-98,-17),(-86,-13),(-74,-16),(76,-16),(88,-13),(100,-17),
    (-106,-24),(-94,-27),(-82,-23),(-70,-26),(59,-26),(71,-23),(83,-27),
    (-104,-34),(-92,-37),(-80,-33),(-68,-36),(52,-36),(64,-33),(76,-37),
    (-106,-44),(-94,-47),(-82,-43),(-70,-46),(46,-46),(58,-43),(70,-47),
    (-112,-54),(-100,-57),(-88,-53),(-76,-56),(36,-56),(48,-53),(60,-57),
    (-104,-64),(-92,-67),(-80,-63),(19,-66),(31,-63),(43,-67),
    (-102,-74),(-90,-77),(-78,-73),(12,-76),(24,-73),(36,-77),
    (-100,-84),(-88,-87),(-76,-83),(12,-86),(24,-83),(36,-87),
    (-96,-94),(-84,-97),(-72,-93),(6,-96),(18,-93),(30,-97),
    (-92,-104),(-80,-107),(-68,-103),(-11,-106),(1,-103),(13,-107),
    (-90,-114),(-78,-117),(-66,-113),(-24,-116),(-12,-113),(0,-117),
    (-86,-124),(-74,-127),(-62,-123),(-28,-126),(-16,-123),(-4,-127),
    (-80,-134),(-68,-137),(-56,-133),(-36,-136),(-24,-133),
    (-74,-144),(-62,-147),(-40,-146),(-28,-143),
]

IDN_D = [
    (-30,42),(-15,37),(0,43),(15,38),
    (-40,28),(-28,33),(-16,27),(-4,32),(8,29),(20,34),(32,27),
    (-45,22),(-33,17),(-21,23),(-9,18),(3,21),(15,16),(27,23),(39,18),
    (-48,8),(-36,13),(-24,7),(-12,12),(0,9),(12,14),(24,7),(36,12),
    (-50,2),(-38,-3),(-26,3),(-14,-2),(-2,1),(10,-4),(22,3),(34,-2),
    (-52,-8),(-40,-13),(-28,-7),(-16,-12),(-4,-9),(8,-14),(20,-7),(32,-12),
    (-50,-18),(-38,-23),(-26,-17),(-14,-22),(-2,-19),(10,-24),(22,-17),(34,-22),
    (-48,-28),(-36,-33),(-24,-27),(-12,-32),(0,-29),(12,-34),(24,-27),
    (-46,-38),(-34,-43),(-22,-37),(-10,-42),(2,-39),(14,-44),(26,-37),
    (-44,-48),(-32,-53),(-20,-47),(-8,-52),(4,-49),(16,-54),
    (-40,-58),(-28,-63),(-16,-57),(-4,-62),(8,-59),(20,-64),
    (-36,-68),(-22,-73),(-8,-67),(6,-72),
    (-30,-82),(-12,-78),(4,-84),
    (-34,35),(-22,36),(-10,34),(2,36),(14,35),(26,34),
    (-40,25),(-28,26),(-16,24),(-4,26),(8,25),(20,24),(32,26),
    (-42,15),(-30,16),(-18,14),(-6,16),(6,15),(18,14),(30,16),
    (-44,5),(-32,6),(-20,4),(-8,6),(4,5),(16,4),(28,6),
    (-46,-5),(-34,-4),(-22,-6),(-10,-4),(2,-5),(14,-6),(26,-4),
    (-44,-15),(-32,-14),(-20,-16),(-8,-14),(4,-15),(16,-16),(28,-14),
    (-42,-25),(-30,-24),(-18,-26),(-6,-24),(6,-25),(18,-26),(30,-24),
    (-40,-35),(-28,-34),(-16,-36),(-4,-34),(8,-35),(20,-36),
    (-38,-45),(-26,-44),(-14,-46),(-2,-44),(10,-45),(22,-46),
    (-34,-55),(-22,-54),(-10,-56),(2,-54),(14,-55),
    (-30,-65),(-16,-64),(-2,-66),(12,-65),
    (124,216),(105,192),(100,183),(104,176),(113,137),(128,136),(134,114),(104,113),(106,94),(109,93),(101,76),(100,54),(86,87),
    (72,89),(5,146),(3,112),(1,105),(-72,40),(60,60),(75,45),(50,80),(40,95),(30,120),(80,20),(65,30),(85,150),(55,135),(95,122),
    (70,110),(90,60),
    (-46,-292),(-42,-198),(-7,-175),(-61,-140),(-55,-147),(-40,-150),(-50,-131),(-81,-93),(-71,-90),(-68,-80),(-80,-93),(-75,-30),
    (-85,-5),(-60,-110),(-30,-115),(-20,-130),(0,-100),(-45,-100),(-60,-45),(-65,0),(-41,-148),(-54,-146),
]

countries = ['Indonesia', 'Brazil', 'Mexico']
scores_country = ['0.61 (0.62)', '0.48 (0.48)', '0.45 (0.5)']
scores_province = ['0.53 (0.53)', '0.2 (0.33)', '0.29 (0.31)']

colors = {
    'Indonesia': plt.cm.plasma(0.55),
    'Brazil': plt.cm.plasma(0.9),
    'Mexico': plt.cm.plasma(0.1),
}


def plotPanel(ax, data, lineStart, level, scores, letterX, letter):

    # Brazil first, Indonesia on top
    for name in ['Brazil', 'Mexico', 'Indonesia']:
        pts = np.array(data[name]) / 1000.0
        ax.scatter(pts[:, 0], pts[:, 1], s=17, color=colors[name], alpha=0.4, linewidths=1.4)

    ax.plot([lineStart, 0.32], [lineStart, 0.32], color='k', alpha=0.5, lw=1.5)

    ax.set_xlim(-0.4, 0.244)
    ax.set_ylim(-0.4, 0.32)
    ax.set_xticks([-0.4, -0.3, -0.2, -0.1, 0.0, 0.1, 0.2])
    ax.set_yticks([-0.4, -0.3, -0.2, -0.1, 0.0, 0.1, 0.2, 0.3])
    ax.tick_params(labelsize=18)

    ax.set_xlabel('Predicted deviations from ' + level + ' mean HDI', fontsize=21)
    ax.set_ylabel('Observed deviations from ' + level + ' mean HDI', fontsize=21)

    handles = [Line2D([], [], marker='o', linestyle='', markersize=10, markeredgewidth=0,
                      color=colors[c], alpha=0.4) for c in countries]
    labels = [c + ': ' + s for c, s in zip(countries, scores)]
    title = 'Within-' + ('country' if level == 'country' else 'province') + r' $R^2$ ($\rho^2$):'
    ax.legend(handles, labels, title=title, loc='upper left', bbox_to_anchor=(-0.0045, 0.952),
              frameon=False, fontsize=22, title_fontsize=22, alignment='left',
              handlelength=0.5, handletextpad=0.78, labelspacing=0.5)

    fig.text(letterX, 0.96, letter, fontsize=29, fontweight='bold', va='baseline')


fig = plt.figure(figsize=(4898 / 300, 2703 / 300), dpi=300)

axC = fig.add_axes([0.0782, 0.0840, 0.4187, 0.8539])
axD = fig.add_axes([0.5809, 0.0840, 0.4187, 0.8539])

plotPanel(axC, {'Mexico': MEX_C + MEX_C_CORE, 'Brazil': BRA_C + BRA_C_EDGE, 'Indonesia': IDN_C},
          -0.4, 'country', scores_country, 0.0345, 'C')
plotPanel(axD, {'Mexico': MEX_D + MEX_D_CORE, 'Brazil': BRA_D + BRA_D_EDGE, 'Indonesia': IDN_D},
          -0.38, 'provincial', scores_province, 0.5415, 'D')

fig.savefig('out.png', dpi=300)
